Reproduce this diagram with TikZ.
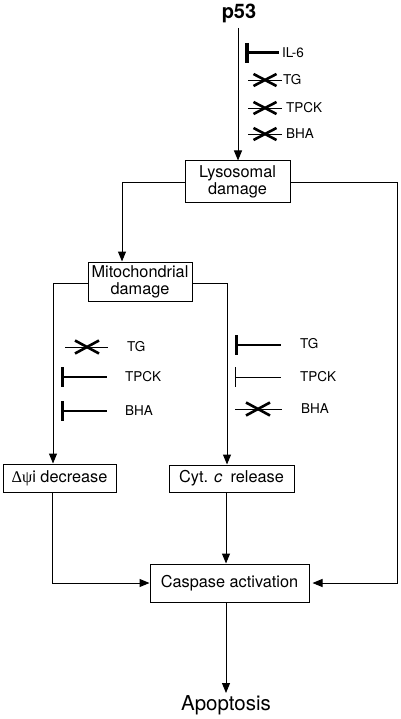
\documentclass[tikz,border=0pt]{standalone}
\usepackage{fontspec}
\setmainfont{TeX Gyre Heros}
\newfontfamily\symfont{Liberation Serif}
\usetikzlibrary{arrows.meta}
\begin{document}
\begin{tikzpicture}[x=1pt,y=-1pt,
  box/.style={draw, line width=1pt, align=center, inner sep=0pt, font=\fontsize{16.3}{17}\selectfont},
  conn/.style={line width=1pt, -{Triangle[length=10pt,width=8pt]}},
  thinline/.style={line width=0.9pt},
  barthick/.style={line width=3pt},
  crossline/.style={line width=2.6pt},
  lab/.style={anchor=west, inner sep=0pt, font=\fontsize{13.5}{14}\selectfont},
  ]
\useasboundingbox (0,0) rectangle (400,719);

% nodes
\node[inner sep=0pt, anchor=base, font=\fontsize{20}{22}\bfseries] (p53) at (239,19) {p53};
\node[box, minimum width=105pt, minimum height=42pt] (lyso) at (237.5,182) {Lysosomal\\damage};
\node[box, minimum width=104pt, minimum height=39pt] (mito) at (140,281.5) {Mitochondrial\\damage};
\node[box, minimum width=113pt, minimum height=28pt] (dpsi) at (59.5,478) {{\symfont Δψ}i decrease};
\node[box, minimum width=125pt, minimum height=27pt] (cytc) at (231.5,478.5) {Cyt. \textit{c}\enspace release};
\node[box, minimum width=159pt, minimum height=38pt] (casp) at (229.5,583) {Caspase activation};
\node[inner sep=0pt, anchor=base, font=\fontsize{20.5}{22}\selectfont] (apo) at (226,710) {Apoptosis};

% coordinates
\coordinate (pstart) at (238,28);
\coordinate (ltop) at (122,183);
\coordinate (rtop) at (397,183);
\coordinate (mleft) at (53,283);
\coordinate (mright) at (227,283);
\coordinate (dbot) at (52,492);
\coordinate (cbot) at (226,492);
\coordinate (aptop) at (226,693);

% connectors
\draw[conn] (pstart) -- (pstart |- lyso.north);
\draw[conn] (ltop -| lyso.west) -- (ltop) -- (ltop |- mito.north);
\draw[conn, shorten >=3pt] (rtop -| lyso.east) -- (rtop) |- (casp.east);
\draw[conn] (mleft -| mito.west) -- (mleft) -- (mleft |- dpsi.north);
\draw[conn] (mright -| mito.east) -- (mright) -- (mright |- cytc.north);
\draw[conn] (dbot) |- (casp.west);
\draw[conn] (cbot) -- (cbot |- casp.north);
\draw[conn] (aptop |- casp.south) -- (aptop);

% top inhibitors
\draw[line width=4.2pt] (247,43) -- (247,63);
\draw[line width=3pt] (247,53) -- (279,53);
\node[lab] (il6) at (282,53) {IL-6};
\foreach \yy/\nm/\xx in {80/TG/283, 108/TPCK/286, 134/BHA/286}{
  \draw[thinline] (248,\yy) -- (282,\yy);
  \draw[crossline] (253.5,\yy-6) -- (276.5,\yy+6);
  \draw[crossline] (253.5,\yy+6) -- (276.5,\yy-6);
  \node[lab] (top\nm) at (\xx,\yy) {\nm};
}

% left inhibitors
\draw[thinline] (65,347) -- (108,347);
\draw[crossline] (75,340.5) -- (99,353.5);
\draw[crossline] (75,353.5) -- (99,340.5);
\node[lab] (lTG) at (127,347) {TG};
\draw[barthick] (62,367) -- (62,387);
\draw[crossline] (62,377) -- (107,377);
\node[lab] (lTPCK) at (125,377) {TPCK};
\draw[barthick] (62,401) -- (62,421);
\draw[crossline] (62,411) -- (107,411);
\node[lab] (lBHA) at (125,411) {BHA};

% right inhibitors
\draw[barthick] (236,335) -- (236,355);
\draw[crossline] (236,345) -- (281,345);
\node[lab] (rTG) at (300,344) {TG};
\draw[thinline] (235,367) -- (235,387);
\draw[thinline] (235,377) -- (281,377);
\node[lab] (rTPCK) at (300,377) {TPCK};
\draw[thinline] (235,409) -- (282,409);
\draw[crossline] (246,402.5) -- (270,415.5);
\draw[crossline] (246,415.5) -- (270,402.5);
\node[lab] (rBHA) at (301,409) {BHA};
\end{tikzpicture}
\end{document}
